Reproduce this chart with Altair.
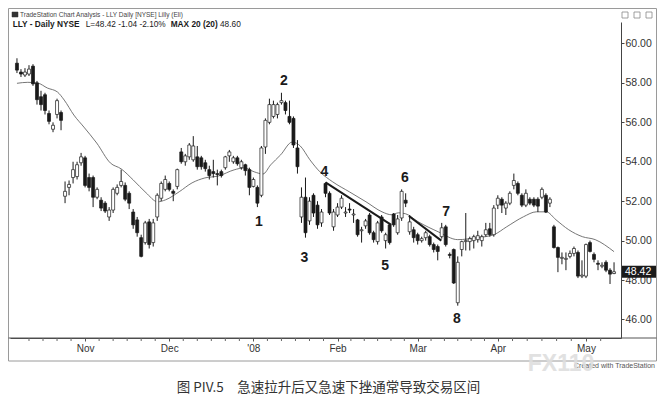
import altair as alt
import pandas as pd

# ---- OHLC values (one entry per trading day) ----
opens = [59.0, 58.55, 58.4, 58.45, 58.85, 58.0, 57.3, 57.4, 56.45, 55.65, 56.4, 56.5,
         52.25, 52.7, 53.2, 53.25, 53.95, 54.2, 53.2, 53.2, 52.2, 52.05, 51.9, 51.2,
         51.55, 52.4, 52.8, 52.8, 52.4, 51.45, 51.05, 50.15, 49.9, 50.95, 49.9, 51.2,
         52.15, 52.6, 52.9, 52.5, 52.75, 54.5, 54.0, 54.25, 54.1, 54.25, 54.2, 53.95,
         53.6, 53.5, 53.4, 53.5, 53.7, 54.3, 54.0, 54.2, 53.7, 53.85, 53.6, 52.75,
         52.7, 52.3, 54.75, 56.0, 56.3, 56.4, 57.0, 57.0, 56.3, 56.2, 54.7, 51.2,
         52.2, 51.0, 52.3, 51.8, 50.9, 52.9, 52.4, 50.7, 51.3, 51.7, 51.4, 51.6,
         51.3, 51.05, 50.5, 50.75, 51.3, 50.4, 49.95, 51.2, 50.0, 50.8, 51.35, 50.4,
         51.15, 52.05, 50.45, 50.55, 50.3, 50.0, 50.15, 50.2, 49.8, 49.7, 50.2, 50.7,
         49.3, 49.55, 46.85, 49.55, 49.95, 49.95, 50.0, 50.05, 50.0, 50.3, 50.6, 50.3,
         51.8, 52.1, 51.65, 51.9, 52.8, 52.9, 52.3, 51.8, 52.1, 52.1, 52.1, 52.2,
         52.3, 51.9, 50.7, 49.65, 49.1, 49.05, 49.2, 49.35, 49.4, 48.2, 48.2, 49.9,
         49.3, 48.85, 48.7, 48.9, 48.5, 48.33]
highs = [59.25, 58.7, 58.75, 58.9, 58.95, 58.1, 57.6, 57.5, 56.6, 56.0, 57.2, 56.6,
         53.0, 53.05, 54.0, 54.0, 54.45, 54.3, 53.4, 53.3, 52.7, 52.2, 52.0, 51.7,
         52.7, 52.85, 53.6, 52.95, 52.5, 51.6, 51.2, 50.3, 51.0, 51.1, 51.1, 52.4,
         53.0, 53.3, 53.0, 52.6, 53.65, 54.7, 54.4, 54.95, 55.3, 54.8, 54.3, 54.1,
         53.8, 54.1, 53.6, 53.6, 54.3, 54.6, 54.3, 54.3, 54.1, 53.9, 53.7, 53.2,
         52.8, 54.8, 56.2, 57.2, 57.1, 57.0, 57.5, 57.1, 57.1, 56.3, 55.1, 52.7,
         53.2, 52.2, 52.4, 52.0, 51.6, 52.95, 52.5, 51.6, 51.9, 52.3, 51.7, 51.9,
         51.6, 51.1, 50.7, 51.1, 51.4, 50.5, 51.0, 51.3, 50.4, 50.9, 51.4, 51.3,
         52.6, 52.4, 51.3, 50.7, 50.4, 50.2, 50.5, 50.3, 49.9, 49.8, 50.9, 50.8,
         49.4, 49.6, 49.2, 50.0, 51.4, 50.2, 50.3, 50.5, 50.3, 50.9, 50.9, 51.8,
         52.3, 52.2, 52.0, 52.5, 53.4, 53.0, 52.4, 52.6, 52.2, 52.2, 52.2, 52.7,
         52.4, 52.2, 50.8, 49.7, 49.4, 49.4, 49.5, 49.7, 49.5, 49.0, 49.85, 50.0,
         49.4, 49.0, 48.9, 49.0, 48.6, 48.9]
lows = [58.5, 58.3, 58.3, 58.35, 57.85, 56.9, 56.6, 56.4, 55.9, 55.5, 56.2, 55.6,
        51.9, 52.3, 52.9, 53.1, 53.8, 52.7, 52.5, 51.7, 52.1, 51.5, 51.4, 51.0,
        51.4, 52.3, 52.7, 52.0, 51.6, 50.6, 50.2, 49.15, 49.8, 49.6, 49.7, 51.0,
        52.0, 52.5, 52.5, 52.0, 52.6, 53.9, 53.8, 54.1, 54.0, 53.6, 53.6, 53.5,
        53.1, 53.2, 52.8, 53.2, 53.6, 54.0, 53.9, 53.8, 53.6, 53.3, 52.3, 52.7,
        51.7, 52.2, 54.4, 55.9, 56.2, 56.2, 56.9, 56.4, 55.9, 54.7, 53.4, 50.9,
        50.15, 50.8, 51.2, 50.6, 50.7, 52.2, 51.3, 50.5, 51.2, 51.6, 51.2, 51.4,
        50.9, 50.2, 49.9, 50.6, 50.3, 49.9, 49.8, 50.4, 49.6, 49.8, 50.7, 50.3,
        51.0, 51.7, 50.3, 49.9, 49.8, 49.9, 50.0, 49.7, 49.4, 49.0, 50.1, 49.7,
        49.1, 47.8, 46.7, 49.2, 49.5, 49.5, 49.6, 49.9, 49.7, 50.2, 50.2, 50.2,
        51.6, 51.4, 51.3, 51.8, 52.6, 52.3, 51.7, 51.7, 51.8, 51.7, 51.45, 52.1,
        51.4, 51.7, 49.6, 48.4, 48.8, 48.5, 49.1, 49.2, 48.1, 48.1, 48.1, 49.4,
        48.9, 48.5, 48.6, 48.4, 47.8, 48.3]
closes = [58.65, 58.45, 58.55, 58.7, 57.95, 57.15, 56.9, 56.6, 56.05, 55.85, 57.1, 56.1,
          52.5, 52.85, 53.6, 53.85, 54.25, 52.8, 52.7, 52.2, 52.6, 51.65, 51.5, 51.55,
          52.6, 52.7, 53.0, 52.1, 51.9, 50.8, 50.4, 49.2, 50.9, 49.8, 50.9, 52.3,
          52.9, 53.1, 52.6, 52.4, 53.6, 54.0, 54.3, 54.85, 54.8, 53.75, 53.75, 53.65,
          53.3, 53.4, 53.35, 53.3, 54.25, 54.5, 54.2, 53.9, 54.0, 53.55, 52.7, 53.1,
          51.9, 54.7, 56.1, 56.9, 56.9, 56.9, 57.1, 56.6, 56.0, 54.85, 53.75, 52.2,
          50.4, 52.0, 51.4, 50.8, 51.45, 52.4, 51.4, 51.45, 51.7, 52.15, 51.45, 51.55,
          51.35, 50.3, 50.55, 51.0, 50.4, 50.05, 50.9, 50.5, 50.3, 49.9, 50.8, 51.1,
          52.5, 51.9, 50.95, 50.15, 50.0, 50.1, 50.4, 49.8, 49.55, 49.45, 50.65, 49.8,
          49.25, 47.85, 48.9, 49.95, 50.0, 50.1, 50.2, 50.25, 50.2, 50.55, 50.3, 51.65,
          52.15, 51.8, 51.9, 52.4, 53.05, 52.4, 51.8, 52.4, 51.9, 51.8, 51.75, 52.6,
          51.45, 52.1, 49.65, 49.15, 49.15, 49.1, 49.35, 49.6, 48.2, 48.25, 49.8, 49.45,
          49.05, 48.8, 48.75, 48.5, 48.3, 48.42]

# ---- month labels on the time axis (bar number of each month's first bar) ----
month_labels = ["Nov", "Dec", "'08", "Feb", "Mar", "Apr", "May"]
month_first_bar = [17, 38, 59, 80, 100, 120, 142]

# ---- 20-bar moving average ----
ma_bar = [0, 2.7, 5.2, 7.6, 10.1, 11.8, 14.2, 16.7, 19.9, 23.3, 26.0, 29.0, 32.2, 35.1,
          37.1, 40.5, 43.7, 46.9, 50.3, 54.2, 56.7, 59.2, 61.4, 63.3, 65.8, 68.7, 70.7,
          73.1, 75.6, 78.8, 83.0, 87.1, 91.1, 93.5, 95.2, 97.0, 100.1, 105.1, 110.0,
          114.9, 119.0, 122.2, 126.4, 129.6, 132.1, 134.5, 137.7, 141.1, 144.3, 149]
ma_value = [57.98, 58.03, 57.99, 57.74, 57.54, 57.13, 56.37, 55.76, 54.95, 53.94, 53.64,
            53.08, 52.43, 51.97, 52.07, 52.48, 52.93, 53.18, 53.28, 53.59, 53.69, 53.49,
            53.38, 53.84, 54.35, 55.0, 54.8, 54.1, 53.49, 52.98, 52.47, 51.97, 51.46,
            51.31, 51.41, 51.36, 50.96, 50.45, 50.05, 50.15, 50.3, 50.7, 51.21, 51.46,
            51.46, 51.06, 50.55, 50.2, 50.05, 49.44]

# ---- hand-drawn trend lines ----
trend_id = ["a", "a", "b", "b"]
trend_bar = [77, 93.4, 97.8, 105.9]
trend_price = [52.95, 50.8, 51.25, 50.0]

# ---- numbered annotations ----
marker_labels = ["1", "2", "3", "4", "5", "6", "7", "8"]
marker_bar = [60.4, 66.6, 71.7, 76.7, 91.9, 96.8, 107.1, 109.8]
marker_price = [50.94, 58.09, 49.13, 53.49, 48.73, 53.18, 51.46, 46.0]

y_ticks = list(range(46, 61))

# ------------------------------------------------------------------
candles = pd.DataFrame({
    "bar": list(range(len(opens))),
    "open": opens, "high": highs, "low": lows, "close": closes,
})
ma_df = pd.DataFrame({"bar": ma_bar, "ma": ma_value})
trend_df = pd.DataFrame({"id": trend_id, "bar": trend_bar, "price": trend_price})
marker_df = pd.DataFrame({"label": marker_labels, "bar": marker_bar, "price": marker_price})
last_df = candles.tail(1).copy()

W, H = 611, 316
n = len(opens)
xscale = alt.Scale(domain=[-0.49, n - 1 + 0.49], nice=False, zero=False)
yscale = alt.Scale(domain=[45.06, 61.09], nice=False, zero=False)

# minor ticks on the time axis: six divisions per month between month starts
bounds = [month_first_bar[0] - 21] + month_first_bar + [month_first_bar[-1] + 22]
minor = []
for a, b in zip(bounds[:-1], bounds[1:]):
    for k in range(1, 6):
        v = a + k * (b - a) / 6
        if 0 <= v <= n - 1:
            minor.append(v)
minor_df = pd.DataFrame({"bar": minor})

label_expr = ""
for b, lab in zip(month_first_bar, month_labels):
    label_expr += f'datum.value == {b} ? "{lab}" : '
label_expr += '""'

FONT = "Liberation Sans"
INK = "#1a1a1a"

x_enc = alt.X("bar:Q", scale=xscale,
              axis=alt.Axis(orient="bottom", values=month_first_bar, labelExpr=label_expr,
                            title=None, grid=False, tickSize=3, labelPadding=2,
                            labelFontSize=10, labelFont=FONT, labelColor="#333",
                            domainColor="#444", tickColor="#555", labelOverlap=False))
y_axis = alt.Axis(orient="right", values=y_ticks, format=".2f", title=None, grid=False,
                  tickSize=3, labelPadding=1, labelFontSize=10.5, labelFont=FONT,
                  labelColor="#333", domainColor="#444", tickColor="#444")

wicks = alt.Chart(candles).mark_rule(color=INK, strokeWidth=1).encode(
    x=x_enc,
    y=alt.Y("low:Q", scale=yscale, axis=y_axis),
    y2="high:Q",
)
bodies = alt.Chart(candles).mark_bar(size=3, stroke=INK, strokeWidth=0.7).encode(
    x=alt.X("bar:Q", scale=xscale),
    y=alt.Y("open:Q", scale=yscale),
    y2="close:Q",
    fill=alt.condition("datum.close >= datum.open", alt.value("white"), alt.value(INK)),
)
minor_ticks = alt.Chart(minor_df).mark_rule(color="#666", strokeWidth=1).encode(
    x=alt.X("bar:Q", scale=xscale),
    y=alt.value(316), y2=alt.value(319),
)
ma_line = alt.Chart(ma_df).mark_line(color="#666", strokeWidth=0.9, interpolate="monotone").encode(
    x=alt.X("bar:Q", scale=xscale),
    y=alt.Y("ma:Q", scale=yscale),
)
trend = alt.Chart(trend_df).mark_line(color=INK, strokeWidth=2).encode(
    x=alt.X("bar:Q", scale=xscale),
    y=alt.Y("price:Q", scale=yscale),
    detail="id:N",
)
markers = alt.Chart(marker_df).mark_text(fontSize=14, fontWeight="bold", font=FONT, color=INK).encode(
    x=alt.X("bar:Q", scale=xscale),
    y=alt.Y("price:Q", scale=yscale),
    text="label:N",
)

# last price flag on the price axis
last_box = alt.Chart(last_df).transform_calculate(
    lo="datum.close - 0.3", hi="datum.close + 0.3"
).mark_rect(color=INK).encode(
    x=alt.value(612), x2=alt.value(646),
    y=alt.Y("lo:Q", scale=yscale), y2="hi:Q",
)
last_text = alt.Chart(last_df).mark_text(align="left", baseline="middle", fontSize=10.5,
                                         font=FONT, color="white").encode(
    x=alt.value(615),
    y=alt.Y("close:Q", scale=yscale),
    text=alt.Text("close:Q", format=".2f"),
)


def txt(s, x, y, size, weight="normal", color="#222", align="left", font=FONT, opacity=1):
    return alt.Chart(pd.DataFrame({"t": [s]})).mark_text(
        align=align, baseline="middle", fontSize=size, fontWeight=weight,
        font=font, color=color, opacity=opacity
    ).encode(x=alt.value(x), y=alt.value(y), text="t:N")


def box(x1, x2, y1, y2, fill=None, stroke="#9a9a9a", sw=1):
    return alt.Chart(pd.DataFrame({"t": [0]})).mark_rect(
        fill=fill, stroke=stroke, strokeWidth=sw
    ).encode(x=alt.value(x1), x2=alt.value(x2), y=alt.value(y1), y2=alt.value(y2))


frame = box(-1.5, 646.5, -13.5, 339)
band_line = alt.Chart(pd.DataFrame({"t": [0]})).mark_rule(color="#555", strokeWidth=1).encode(
    x=alt.value(-1.5), x2=alt.value(646.5), y=alt.value(316)
)
icon = box(2, 8, -10, -5, fill="#333", stroke="#333", sw=0.5)
btn1 = box(612, 618, -10, -4, fill="white", stroke="#888", sw=0.8)
btn2 = box(624, 630, -10, -4, fill="white", stroke="#888", sw=0.8)
btn3 = box(636, 642, -10, -4, fill="white", stroke="#888", sw=0.8)

header = txt("TradeStation Chart Analysis - LLY Daily [NYSE] Lilly (Eli)", 10, -7.5, 6.5, color="#444")
l1 = txt("LLY - Daily NYSE", 2.7, 3, 8.3, "bold", INK)
l2 = txt("L=48.42 -1.04 -2.10%", 75.7, 3, 8.3, "normal", INK)
l3 = txt("MAX 20 (20)", 160.7, 3, 8.3, "bold", INK)
l4 = txt("48.60", 210, 3, 8.3, "normal", INK)
created = txt("Created with TradeStation", 645, 344, 7, color="#555", align="right")
watermark = txt("FX110", 551, 342, 23, "bold", "#dedede", align="center", opacity=0.9)
caption = txt("图 PIV.5\u3000急速拉升后又急速下挫通常导致交易区间", 318.5, 366, 13.5,
              color="#333", align="center", font="Noto Sans CJK SC")

chart = alt.layer(
    frame, band_line, minor_ticks, ma_line, wicks, bodies, trend, markers, last_box, last_text,
    icon, btn1, btn2, btn3, header, l1, l2, l3, l4, created, watermark, caption
).properties(
    width=W, height=H,
    padding={"left": 2, "top": 14, "right": 36, "bottom": 58},
    autosize=alt.AutoSizeParams(type="none"),
    background="white",
).configure_view(stroke=None)

chart.save("out.html", embed_options={"renderer": "svg", "actions": False})
